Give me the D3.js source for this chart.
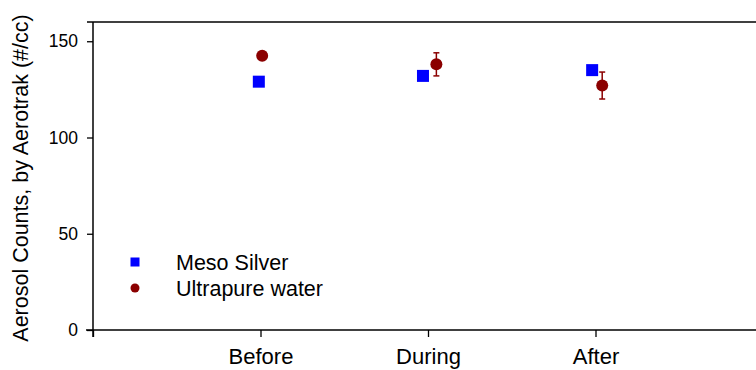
<!DOCTYPE html>
<html>
<head>
<meta charset="utf-8">
<script src="https://cdn.jsdelivr.net/npm/d3@7"></script>
<style>
  body { margin: 0; background: #fff; }
  text { font-family: "Liberation Sans", Arial, Helvetica, sans-serif; fill: #000; }
</style>
</head>
<body>
<script>
// categories and their position on the x scale (0 and 4 are the empty ends)
var categories = ["Before", "During", "After"];
var catPos = [1, 2, 3];

// Meso Silver (squares), x slightly jittered as in the original
var mesoX = [0.99, 1.97, 2.98];
var mesoY = [129, 132, 135];
var mesoErr = [0, 1, 0];

// Ultrapure water (circles)
var waterX = [1.01, 2.05, 3.04];
var waterY = [142.5, 138, 127];
var waterErr = [0, 6, 7];

var yTicks = [0, 50, 100, 150];

const WIDTH = 756;
const HEIGHT = 370;
const LEFT = 93, RIGHT = 763, TOP = 22, BOTTOM = 330;

var xScale = d3.scaleLinear()
    .domain([0, 4])
    .range([LEFT, RIGHT]);

var yScale = d3.scaleLinear()
    .domain([0, 160])
    .range([BOTTOM, TOP]);

var svg = d3.select("body")
    .append("svg")
    .attr("width", WIDTH)
    .attr("height", HEIGHT);

// x axis
var xAxis = svg.append("g")
    .attr("transform", `translate(0,${BOTTOM})`)
    .call(d3.axisBottom(xScale)
        .tickValues([0].concat(catPos))
        .tickSize(7)
        .tickPadding(11)
        .tickFormat(d => d === 0 ? "" : categories[catPos.indexOf(d)]));
xAxis.select(".domain").remove();
xAxis.append("line")
    .attr("x1", LEFT - 7).attr("x2", WIDTH)
    .attr("stroke", "#000").attr("stroke-width", 1.5);
xAxis.selectAll(".tick line").attr("stroke-width", 1.3);
xAxis.selectAll("text").attr("font-size", "22px");

// y axis
var yAxis = svg.append("g")
    .attr("transform", `translate(${LEFT},0)`)
    .call(d3.axisLeft(yScale)
        .tickValues(yTicks)
        .tickSize(6)
        .tickPadding(9));
yAxis.select(".domain").remove();
yAxis.append("line")
    .attr("y1", TOP).attr("y2", BOTTOM + 7)
    .attr("stroke", "#000").attr("stroke-width", 1.5);
yAxis.selectAll(".tick line").attr("stroke-width", 1.3);
yAxis.selectAll("text").attr("font-size", "17.5px");

// top frame line
svg.append("line")
    .attr("x1", LEFT - 6).attr("x2", WIDTH)
    .attr("y1", TOP).attr("y2", TOP)
    .attr("stroke", "#000").attr("stroke-width", 1.5);

// y axis title
svg.append("text")
    .attr("transform", `translate(28,${(TOP + BOTTOM) / 2 + 2}) rotate(-90)`)
    .attr("text-anchor", "middle")
    .attr("font-size", "21.5px")
    .text("Aerosol Counts, by Aerotrak (#/cc)");

// error bars
function errorBars(xs, ys, errs, color) {
    var g = svg.append("g").attr("stroke", color).attr("stroke-width", 1.5);
    xs.forEach(function (x, i) {
        if (!errs[i]) return;
        var cx = xScale(x);
        g.append("line")
            .attr("x1", cx).attr("x2", cx)
            .attr("y1", yScale(ys[i] - errs[i])).attr("y2", yScale(ys[i] + errs[i]));
        [ys[i] - errs[i], ys[i] + errs[i]].forEach(function (v) {
            g.append("line")
                .attr("x1", cx - 3).attr("x2", cx + 3)
                .attr("y1", yScale(v)).attr("y2", yScale(v));
        });
    });
}
errorBars(mesoX, mesoY, mesoErr, "#0000ff");
errorBars(waterX, waterY, waterErr, "#8b0000");

// squares
svg.selectAll("rect.meso")
    .data(mesoX)
    .enter()
    .append("rect")
    .attr("class", "meso")
    .attr("x", (d, i) => xScale(d) - 6)
    .attr("y", (d, i) => yScale(mesoY[i]) - 6)
    .attr("width", 12)
    .attr("height", 12)
    .attr("fill", "#0000ff");

// circles
svg.selectAll("circle.water")
    .data(waterX)
    .enter()
    .append("circle")
    .attr("class", "water")
    .attr("cx", d => xScale(d))
    .attr("cy", (d, i) => yScale(waterY[i]))
    .attr("r", 6)
    .attr("fill", "#8b0000");

// legend
var legend = svg.append("g").attr("transform", "translate(135,262)");
legend.append("rect")
    .attr("x", -4.5).attr("y", -4.5)
    .attr("width", 9).attr("height", 9)
    .attr("fill", "#0000ff");
legend.append("circle")
    .attr("cx", 0).attr("cy", 26)
    .attr("r", 4.5)
    .attr("fill", "#8b0000");
legend.append("text")
    .attr("x", 41).attr("y", 7.5)
    .attr("font-size", "21.5px")
    .text("Meso Silver");
legend.append("text")
    .attr("x", 41).attr("y", 33.5)
    .attr("font-size", "21.5px")
    .text("Ultrapure water");
</script>
</body>
</html>
